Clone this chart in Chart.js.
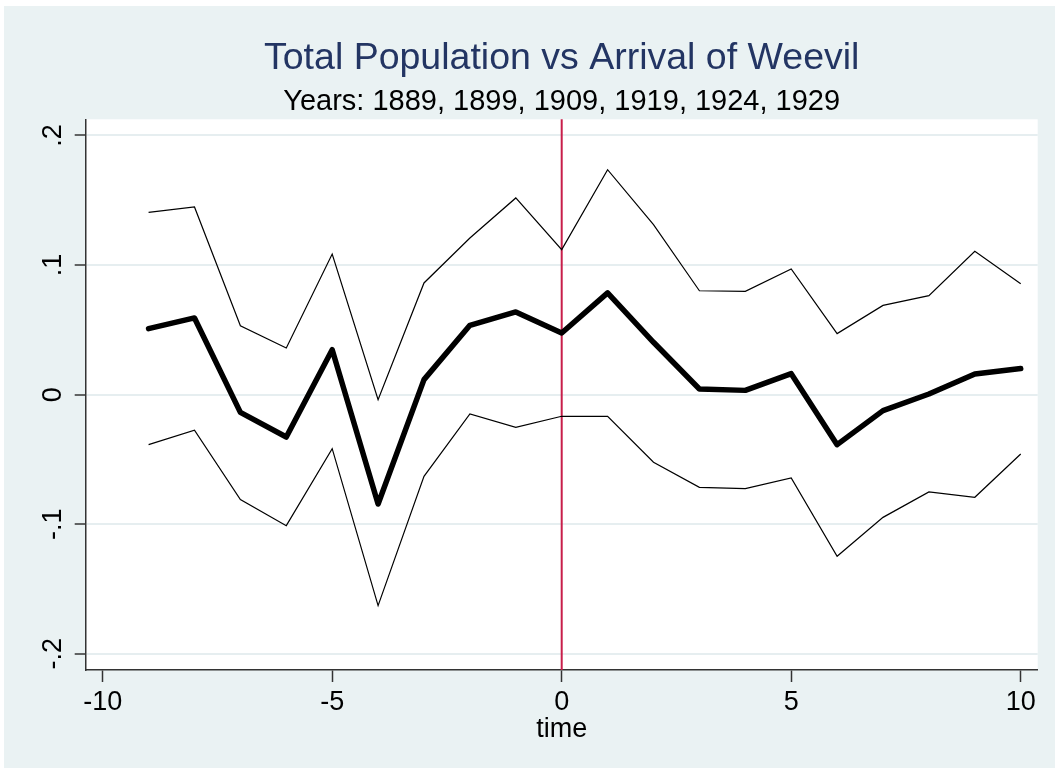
<!DOCTYPE html>
<html>
<head>
<meta charset="utf-8">
<script src="https://cdn.jsdelivr.net/npm/chart.js@4"></script>
<style>
  html, body { margin: 0; padding: 0; background: #ffffff; }
  #wrap { width: 1055px; height: 768px; }
</style>
</head>
<body>
<div id="wrap"><canvas id="chart"></canvas></div>
<script>
const times = [-9, -8, -7, -6, -5, -4, -3, -2, -1, 0, 1, 2, 3, 4, 5, 6, 7, 8, 9, 10];
const estimate = [0.0509, 0.0592, -0.0137, -0.0327, 0.0347, -0.0844, 0.0116, 0.0535, 0.0638, 0.0476,
                  0.0785, 0.0404, 0.0044, 0.0033, 0.0162, -0.0386, -0.0123, 0.0005, 0.0160, 0.0201];
const upper = [0.1407, 0.1448, 0.0532, 0.0360, 0.1085, -0.0039, 0.0862, 0.1209, 0.1518, 0.1119,
               0.1736, 0.1312, 0.0802, 0.0797, 0.0970, 0.0471, 0.0689, 0.0764, 0.1106, 0.0856];
const lower = [-0.0386, -0.0275, -0.0810, -0.1011, -0.0417, -0.1628, -0.0630, -0.0149, -0.0252, -0.0167,
               -0.0167, -0.0522, -0.0715, -0.0725, -0.0643, -0.1247, -0.0947, -0.0751, -0.0792, -0.0458];
const xTicks = [-10, -5, 0, 5, 10];
const yTicks = [-0.2, -0.1, 0, 0.1, 0.2];
const arrivalTime = 0;

const fontFamily = "'Liberation Sans', Arial, sans-serif";

function toPoints(values) {
    return times.map((t, i) => ({ x: t, y: values[i] }));
}

// Stata style labels: .2, -.1, 0
function stataNumber(v) {
    const r = Math.round(v * 10) / 10;
    if (r === 0) return '0';
    return String(r).replace('0.', '.');
}

const stataBackground = {
    id: 'stataBackground',
    beforeDraw(chart) {
        const ctx = chart.ctx;
        const a = chart.chartArea;
        ctx.save();
        ctx.fillStyle = '#ffffff';
        ctx.fillRect(0, 0, chart.width, chart.height);
        ctx.fillStyle = '#EAF2F3';
        ctx.fillRect(4, 6, chart.width - 4, chart.height - 6);
        ctx.fillStyle = '#ffffff';
        ctx.fillRect(a.left, a.top, a.right - a.left, a.bottom - a.top);
        ctx.restore();
    }
};

const arrivalLine = {
    id: 'arrivalLine',
    beforeDatasetsDraw(chart) {
        const ctx = chart.ctx;
        const a = chart.chartArea;
        const x = chart.scales.x.getPixelForValue(arrivalTime);
        ctx.save();
        ctx.strokeStyle = '#C81E4A';
        ctx.lineWidth = 2;
        ctx.beginPath();
        ctx.moveTo(x, a.top);
        ctx.lineTo(x, a.bottom);
        ctx.stroke();
        ctx.restore();
    }
};

const ctx = document.getElementById('chart').getContext('2d');

new Chart(ctx, {
    type: 'scatter',
    data: {
        datasets: [
            {
                label: 'upper',
                data: toPoints(upper),
                showLine: true,
                borderColor: '#000000',
                borderWidth: 1.2,
                pointRadius: 0
            },
            {
                label: 'lower',
                data: toPoints(lower),
                showLine: true,
                borderColor: '#000000',
                borderWidth: 1.2,
                pointRadius: 0
            },
            {
                label: 'estimate',
                data: toPoints(estimate),
                showLine: true,
                borderColor: '#000000',
                borderWidth: 5.5,
                borderJoinStyle: 'round',
                borderCapStyle: 'round',
                pointRadius: 0
            }
        ]
    },
    options: {
        responsive: true,
        maintainAspectRatio: false,
        animation: false,
        layout: {
            padding: { left: 0, right: 17.3, top: 0, bottom: 0 }
        },
        plugins: {
            legend: { display: false },
            tooltip: { enabled: false },
            title: {
                display: true,
                fullSize: false,
                text: 'Total Population vs Arrival of Weevil',
                color: '#233563',
                font: { family: fontFamily, size: 37.5, weight: 'normal' },
                padding: { top: 36.3, bottom: 0 }
            },
            subtitle: {
                display: true,
                fullSize: false,
                text: 'Years: 1889, 1899, 1909, 1919, 1924, 1929',
                color: '#000000',
                font: { family: fontFamily, size: 29, weight: 'normal' },
                padding: { top: 3.2, bottom: 0 }
            }
        },
        scales: {
            x: {
                type: 'linear',
                min: -10.37,
                max: 10.37,
                afterBuildTicks: s => { s.ticks = xTicks.map(v => ({ value: v })); },
                afterFit: s => { s.height = 98; },
                ticks: {
                    color: '#000000',
                    font: { family: fontFamily, size: 27 },
                    padding: 4,
                    maxRotation: 0,
                    callback: v => String(v)
                },
                grid: {
                    drawOnChartArea: false,
                    drawTicks: true,
                    tickLength: 12,
                    tickColor: '#333333',
                    tickWidth: 1.5
                },
                border: { color: '#333333', width: 1.5 },
                title: {
                    display: true,
                    text: 'time',
                    color: '#000000',
                    font: { family: fontFamily, size: 27 },
                    padding: { top: 0, bottom: 21.8 }
                }
            },
            y: {
                type: 'linear',
                min: -0.2125,
                max: 0.2125,
                afterBuildTicks: s => { s.ticks = yTicks.map(v => ({ value: v })); },
                afterFit: s => { s.width = 85.7; },
                ticks: {
                    color: '#000000',
                    font: { family: fontFamily, size: 27 },
                    minRotation: 90,
                    maxRotation: 90,
                    crossAlign: 'center',
                    padding: 5,
                    callback: v => stataNumber(v)
                },
                grid: {
                    color: '#E6EEF0',
                    lineWidth: 2,
                    drawTicks: true,
                    tickLength: 11,
                    tickColor: '#333333',
                    tickWidth: 1.5
                },
                border: { color: '#333333', width: 1.5 }
            }
        }
    },
    plugins: [stataBackground, arrivalLine]
});
</script>
</body>
</html>
